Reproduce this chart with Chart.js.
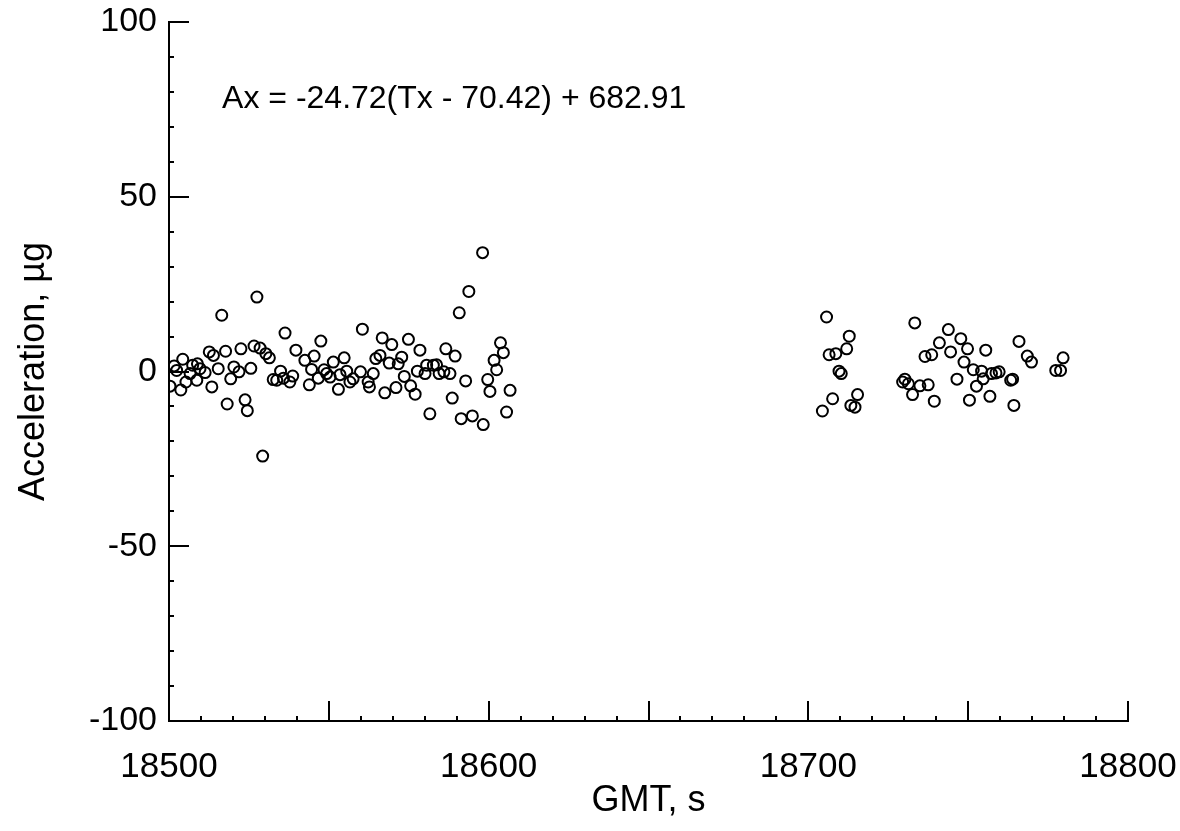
<!DOCTYPE html>
<html lang="en">
<head>
  <meta charset="UTF-8">
  <title>Acceleration vs GMT</title>
  <script src="https://cdn.jsdelivr.net/npm/chart.js"></script>
  <style>
    body {
      margin: 0;
      background: #fff;
    }
    canvas {
      display: block;
    }
  </style>
</head>
<body>
<canvas id="grafico" width="1180" height="831"></canvas>

<script>
  // GMT time (s) and acceleration (micro-g)
  const gmtSeconds = [
    18500.3, 18501.6, 18502.4, 18504.3, 18503.7, 18505.3, 18506.6, 18507.4, 18508.9, 18508.7,
    18509.7, 18511.3, 18512.6, 18513.9, 18513.4, 18515.4, 18516.5, 18517.7, 18518.2, 18519.3,
    18520.3, 18521.9, 18522.5, 18523.8, 18524.5, 18525.6, 18526.6, 18527.5, 18528.5, 18529.3,
    18530.3, 18531.4, 18532.6, 18533.7, 18534.9, 18535.8, 18536.3, 18537.8, 18538.7, 18539.7,
    18542.5, 18543.9, 18544.6, 18545.4, 18546.7, 18547.5, 18548.5, 18549.3, 18550.4, 18551.4,
    18553.0, 18553.5, 18554.8, 18555.6, 18556.6, 18557.6, 18559.9, 18560.5, 18562.3, 18562.7,
    18563.9, 18564.7, 18566.0, 18566.7, 18567.5, 18568.9, 18569.7, 18571.0, 18571.7, 18572.8,
    18573.6, 18574.9, 18575.6, 18577.0, 18577.7, 18578.5, 18580.1, 18580.6, 18581.6, 18582.7,
    18583.7, 18584.5, 18586.0, 18586.6, 18587.9, 18588.6, 18589.5, 18590.8, 18591.4, 18592.8,
    18593.8, 18594.9, 18598.1, 18598.3, 18599.7, 18600.4, 18601.7, 18602.5, 18603.7, 18604.6,
    18605.6, 18606.7,
    18704.4, 18705.7, 18706.5, 18707.6, 18708.6, 18709.6, 18710.3, 18712.0, 18712.8, 18713.3,
    18714.6, 18715.4, 18729.5, 18730.2, 18731.3, 18732.6, 18733.3, 18734.9, 18736.5, 18737.5,
    18738.6, 18739.4, 18741.0, 18743.8, 18744.5, 18746.5, 18747.7, 18748.7, 18749.8, 18750.4,
    18751.6, 18752.6, 18754.2, 18754.7, 18755.5, 18756.8, 18757.3, 18758.7, 18759.7, 18763.3,
    18763.9, 18764.3, 18765.9, 18768.5, 18769.8, 18777.4, 18778.9, 18779.7
  ];

  const accelUg = [
    -4.2, 1.6, 0.3, 3.5, -5.3, -3.0, -0.6, 1.8, 2.2, -2.5,
    0.8, -0.3, 5.6, 4.6, -4.4, 0.8, 16.1, 5.8, -9.3, -2.1,
    1.3, -0.1, 6.5, -8.1, -11.2, 0.9, 7.3, 21.3, 6.7, -24.2,
    5.1, 3.9, -2.3, -2.5, 0.1, -1.9, 11.0, -3.0, -1.3, 6.1,
    3.2, -3.8, 0.6, 4.4, -1.9, 8.7, 0.5, -0.6, -1.6, 2.7,
    -5.1, -0.9, 3.9, 0.1, -3.0, -2.1, -0.1, 12.1, -3.0, -4.4,
    -0.6, 3.7, 4.6, 9.6, -6.1, 2.4, 7.7, -4.6, 2.2, 4.1,
    -1.4, 9.2, -4.1, -6.5, 0.1, 6.1, -0.6, 1.8, -12.1, 1.8,
    1.9, -0.6, -0.1, 6.5, -0.6, -7.6, 4.4, 16.8, -13.5, -2.7,
    22.9, -12.7, 34.0, -15.2, -2.3, -5.7, 3.2, 0.5, 8.2, 5.4,
    -11.6, -5.4,
    -11.3, 15.6, 4.8, -7.8, 5.1, 0.1, -0.6, 6.5, 10.1, -9.7,
    -10.2, -6.6, -3.0, -2.2, -3.5, -6.6, 13.9, -4.1, 4.3, -3.8,
    4.8, -8.5, 8.2, 12.0, 5.6, -2.2, 9.4, 2.7, 6.5, -8.2,
    0.5, -4.2, 0.1, -2.1, 6.1, -7.1, -0.6, -0.4, -0.1, -2.5,
    -2.2, -9.7, 8.6, 4.4, 2.7, 0.3, 0.3, 3.9
  ];

  const xTickLabels = [18500, 18600, 18700, 18800];
  const yTickLabels = [-100, -50, 0, 50, 100];
  const fitLabel = 'Ax = -24.72(Tx - 70.42) + 682.91';
  const fitLabelAt = [18516.6, 78];

  const puntos = gmtSeconds.map((x, i) => ({ x: x, y: accelUg[i] }));
  const fuente = '"Liberation Sans", Arial, sans-serif';

  // inward tick marks: minor every 10, major every 50
  const ticksHacia = {
    id: 'ticksHacia',
    afterDraw(chart) {
      const ctx = chart.ctx;
      const xs = chart.scales.x;
      const ys = chart.scales.y;
      const area = chart.chartArea;
      ctx.save();
      ctx.strokeStyle = '#000';
      ctx.lineWidth = 2;
      ctx.beginPath();
      for (let v = xs.min; v <= xs.max; v += 10) {
        const px = Math.round(xs.getPixelForValue(v));
        const len = (v % 50 === 0) ? 20 : 5;
        ctx.moveTo(px, area.bottom);
        ctx.lineTo(px, area.bottom - len);
      }
      for (let v = ys.min; v <= ys.max; v += 10) {
        const py = Math.round(ys.getPixelForValue(v));
        const len = (v % 50 === 0) ? 20 : 5;
        ctx.moveTo(area.left, py);
        ctx.lineTo(area.left + len, py);
      }
      ctx.stroke();

      // fit equation
      ctx.fillStyle = '#000';
      ctx.font = '32px ' + fuente;
      ctx.textAlign = 'left';
      ctx.textBaseline = 'middle';
      ctx.fillText(fitLabel, xs.getPixelForValue(fitLabelAt[0]), ys.getPixelForValue(fitLabelAt[1]));
      ctx.restore();
    }
  };

  new Chart(document.getElementById('grafico'), {
    type: 'scatter',
    data: {
      datasets: [{
        data: puntos,
        pointStyle: 'circle',
        pointRadius: 5.5,
        pointBorderWidth: 2,
        pointBorderColor: '#000',
        pointBackgroundColor: 'rgba(0,0,0,0)'
      }]
    },
    options: {
      responsive: false,
      animation: false,
      events: [],
      layout: { padding: { top: 22, right: 52, bottom: 0, left: 0 } },
      plugins: {
        legend: { display: false },
        tooltip: { enabled: false }
      },
      scales: {
        x: {
          type: 'linear',
          min: 18500,
          max: 18800,
          afterBuildTicks: (s) => { s.ticks = xTickLabels.map(v => ({ value: v })); },
          afterFit: (s) => {
            s.height = 110;
            s.paddingLeft = 0;
            s.paddingRight = 0;
          },
          grid: { display: false, drawTicks: false },
          border: { display: true, color: '#000', width: 2 },
          ticks: {
            color: '#000',
            padding: 25,
            font: { family: fuente, size: 35 },
            callback: (v) => String(v)
          },
          title: {
            display: true,
            text: 'GMT, s',
            color: '#000',
            padding: { top: 0, bottom: 8 },
            font: { family: fuente, size: 36 }
          }
        },
        y: {
          min: -100,
          max: 100,
          afterBuildTicks: (s) => { s.ticks = yTickLabels.map(v => ({ value: v })); },
          afterFit: (s) => {
            s.width = 169;
            s.paddingTop = 0;
            s.paddingBottom = 0;
          },
          grid: { display: false, drawTicks: false },
          border: { display: true, color: '#000', width: 2 },
          ticks: {
            color: '#000',
            padding: 12,
            font: { family: fuente, size: 34 },
            callback: (v) => String(v)
          },
          title: {
            display: true,
            text: 'Acceleration, µg',
            color: '#000',
            padding: { top: 12, bottom: 0 },
            font: { family: fuente, size: 36 }
          }
        }
      }
    },
    plugins: [ticksHacia]
  });
</script>
</body>
</html>
